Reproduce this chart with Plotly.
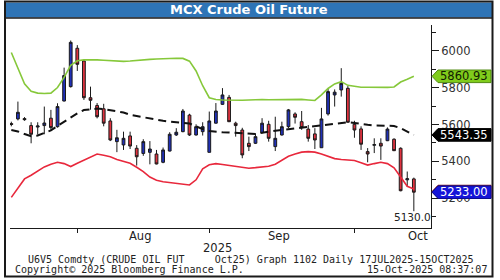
import plotly.graph_objects as go

# ---------------- data ----------------
session = list(range(62))
opens  = [5605,5630,5632,5594,5586,5594,5634,5588,5727,5805,6013,5944,5745,5703,5685,5619,5507,5489,5538,5471,
          5443,5449,5440,5395,5456,5543,5561,5651,5543,5561,5449,5607,5709,5747,5607,5570,5498,5498,5556,5601,
          5480,5543,5588,5657,5615,5575,5549,5474,5657,5760,5787,5796,5601,5576,5453,5487,5498,5512,5520,5471,
          5300,5305]
highs  = [5615,5724,5640,5612,5612,5697,5679,5715,5908,6055,6030,5950,5805,5716,5712,5634,5571,5561,5561,5488,
          5520,5510,5462,5475,5558,5580,5684,5658,5601,5612,5670,5716,5797,5760,5615,5582,5534,5552,5634,5620,
          5642,5615,5684,5666,5673,5597,5580,5690,5792,5790,5905,5808,5620,5590,5472,5525,5525,5584,5525,5476,
          5345,5312]
lows   = [5590,5622,5620,5498,5545,5547,5571,5583,5725,5800,5890,5733,5680,5633,5590,5510,5450,5462,5467,5377,
          5430,5384,5384,5390,5454,5538,5558,5538,5540,5540,5449,5605,5706,5613,5534,5417,5456,5494,5552,5507,
          5456,5540,5580,5605,5571,5507,5467,5474,5648,5697,5751,5610,5528,5462,5395,5445,5408,5510,5456,5238,
          5262,5130]
closes = [5600,5666,5626,5547,5592,5608,5583,5697,5865,6045,5926,5745,5731,5642,5607,5516,5528,5525,5483,5425,
          5507,5467,5386,5462,5547,5558,5673,5543,5588,5588,5619,5673,5760,5615,5594,5435,5480,5534,5607,5525,
          5525,5588,5679,5639,5583,5525,5516,5630,5778,5775,5823,5612,5570,5493,5440,5491,5483,5575,5458,5241,
          5306,5233]
upper_band = [5990,5900,5820,5780,5770,5768,5770,5800,5855,5920,5945,5950,5952,5950,5948,5945,5942,5942,5944,5948,
              5952,5953,5955,5957,5958,5959,5958,5943,5890,5810,5745,5735,5733,5732,5730,5731,5733,5735,5735,5734,
              5735,5736,5737,5737,5736,5733,5730,5760,5795,5820,5832,5812,5805,5802,5802,5801,5800,5801,5803,5830,
              5845,5860.93]
lower_band = [5205,5255,5305,5325,5348,5370,5385,5395,5388,5372,5390,5408,5425,5440,5433,5425,5410,5400,5390,5368,
              5345,5315,5298,5290,5285,5281,5276,5272,5300,5360,5382,5388,5383,5377,5372,5366,5363,5366,5370,5374,
              5385,5405,5428,5440,5450,5453,5450,5440,5428,5415,5410,5408,5405,5393,5380,5388,5395,5388,5365,5315,
              5265,5250]
mid_avg = [5570,5562,5548,5536,5540,5552,5568,5592,5615,5640,5660,5678,5684,5686,5683,5678,5672,5665,5652,5645,
           5638,5630,5625,5620,5615,5612,5609,5605,5590,5575,5565,5560,5558,5557,5556,5554,5550,5549,5555,5562,
           5566,5570,5574,5576,5580,5584,5588,5593,5598,5603,5608,5612,5608,5601,5598,5594,5594,5594,5592,5580,
           5562,5543.35]
month_tick_sessions = [10, 30, 52]
month_labels = ["Aug", "Sep", "Oct"]
month_label_sessions = [19.5, 40.6, 61.6]
year_label = "2025"
year_label_session = 31.2
tag_values = [5860.93, 5543.35, 5233.00]
low_value = 5130.0

# ---------------- layout helpers ----------------
W, H = 500, 280
L, R, T, B = 10, 431, 25, 228
def pxx(px):
    return (px - L) / (R - L)
def pxy(py):
    return (B - py) / (B - T)

YMIN, YMAX = 5039, 6139
UNIT_PER_PX = (YMAX - YMIN) / (B - T)

fig = go.Figure()
fig.add_trace(go.Candlestick(
    x=session, open=opens, high=highs, low=lows, close=closes,
    increasing=dict(fillcolor="#2030b8", line=dict(color="#1a1a1a", width=1)),
    decreasing=dict(fillcolor="#e0323f", line=dict(color="#1a1a1a", width=1)),
    whiskerwidth=0, showlegend=False, hoverinfo="skip"))
fig.add_trace(go.Scatter(x=session, y=upper_band, mode="lines",
                         line=dict(color="#86c83a", width=1.6), showlegend=False, hoverinfo="skip"))
fig.add_trace(go.Scatter(x=session, y=lower_band, mode="lines",
                         line=dict(color="#e8283c", width=1.6), showlegend=False, hoverinfo="skip"))
fig.add_trace(go.Scatter(x=session, y=mid_avg, mode="lines",
                         line=dict(color="#111111", width=2, dash="8px,5px"), showlegend=False, hoverinfo="skip"))

shapes = []
annotations = []

# outer frame and title bar
shapes.append(dict(type="rect", xref="paper", yref="paper", x0=pxx(5), x1=pxx(492.5), y0=pxy(2.5), y1=pxy(17.5),
                   fillcolor="#2e74b6", line=dict(width=0), layer="above"))
shapes.append(dict(type="line", xref="paper", yref="paper", x0=pxx(5), x1=pxx(492.5), y0=pxy(18), y1=pxy(18),
                   line=dict(color="#1a1a1a", width=1.5), layer="above"))
shapes.append(dict(type="rect", xref="paper", yref="paper", x0=pxx(5), x1=pxx(492.5), y0=pxy(276.5), y1=pxy(1.5),
                   line=dict(color="#1a1a1a", width=2), fillcolor="rgba(0,0,0,0)", layer="above"))
annotations.append(dict(xref="paper", yref="paper", x=pxx(249), y=pxy(10), text="<b>MCX Crude Oil Future</b>",
                        showarrow=False, font=dict(family="DejaVu Sans", size=13, color="white"),
                        xanchor="center", yanchor="middle"))

# value tags
def tag(value, fill, line, text_color, dy_px=0, text=True):
    h = 6.3 * UNIT_PER_PX
    v = value - dy_px * UNIT_PER_PX
    xp, x1, x2 = pxx(432), pxx(438), pxx(491)
    path = f"M {xp},{v} L {x1},{v+h} L {x2},{v+h} L {x2},{v-h} L {x1},{v-h} Z"
    shapes.append(dict(type="path", xref="paper", yref="y", path=path, fillcolor=fill,
                       line=dict(color=line, width=1), layer="above"))
    if text:
        annotations.append(dict(xref="paper", yref="y", x=pxx(464.5), y=v, text=f"{value:.2f}", showarrow=False,
                                font=dict(family="DejaVu Sans", size=11.5, color=text_color),
                                xanchor="center", yanchor="middle"))

tag(tag_values[0], "#80cc1c", "#4f8a10", "#102000")
tag(tag_values[1], "#000000", "#000000", "white")
tag(lower_band[-1], "#7a1020", "#7a1020", "white", dy_px=2.5, text=False)
tag(tag_values[2], "#1515d8", "#0d0d90", "white")

# low label
annotations.append(dict(xref="paper", yref="y", x=pxx(392), y=low_value, yshift=-6, text=f"{low_value:.1f}",
                        showarrow=False, font=dict(family="DejaVu Sans", size=10.5, color="#222"),
                        xanchor="left", yanchor="middle"))

# month labels
for lab, s in zip(month_labels, month_label_sessions):
    annotations.append(dict(xref="x", yref="paper", x=s, y=pxy(236), text=lab, showarrow=False,
                            font=dict(family="DejaVu Sans", size=11.5, color="#222"),
                            xanchor="center", yanchor="middle"))
annotations.append(dict(xref="x", yref="paper", x=year_label_session, y=pxy(247.5), text=year_label, showarrow=False,
                        font=dict(family="DejaVu Sans", size=11.5, color="#222"), xanchor="center", yanchor="middle"))

# footer
mono = dict(family="DejaVu Sans Mono", size=10, color="#222")
annotations.append(dict(xref="paper", yref="paper", x=pxx(26), y=pxy(259.5),
                        text="U6V5 Comdty (CRUDE OIL FUT     Oct25) Graph 1102 Daily 17JUL2025-15OCT2025".replace(" ", "&nbsp;"),
                        showarrow=False, font=mono, xanchor="left", yanchor="middle"))
annotations.append(dict(xref="paper", yref="paper", x=pxx(12.5), y=pxy(269.5),
                        text="Copyright© 2025 Bloomberg Finance L.P.", showarrow=False, font=mono,
                        xanchor="left", yanchor="middle"))
annotations.append(dict(xref="paper", yref="paper", x=pxx(489), y=pxy(269.5),
                        text="15-Oct-2025 08:37:07", showarrow=False, font=mono,
                        xanchor="right", yanchor="middle"))

fig.update_layout(
    width=W, height=H, margin=dict(l=L, r=W - R, t=T, b=H - B, pad=0),
    paper_bgcolor="white", plot_bgcolor="white",
    shapes=shapes, annotations=annotations, showlegend=False, boxgap=0.4,
    xaxis=dict(range=[-0.2, 63.6], rangeslider=dict(visible=False), showgrid=False, zeroline=False,
               showline=True, linecolor="#1a1a1a", linewidth=1, tickmode="array", tickvals=month_tick_sessions,
               ticks="outside", ticklen=4, tickcolor="#1a1a1a", showticklabels=False),
    yaxis=dict(range=[YMIN, YMAX], side="right", showgrid=False, zeroline=False, showline=True,
               linecolor="#1a1a1a", linewidth=1, tick0=5000, dtick=200, ticks="outside", ticklen=7,
               tickcolor="#1a1a1a", tickfont=dict(family="DejaVu Sans", size=11.5, color="#333"),
               minor=dict(tick0=5000, dtick=100, ticks="outside", ticklen=4, tickcolor="#1a1a1a")),
)
fig.write_html("out.html")
